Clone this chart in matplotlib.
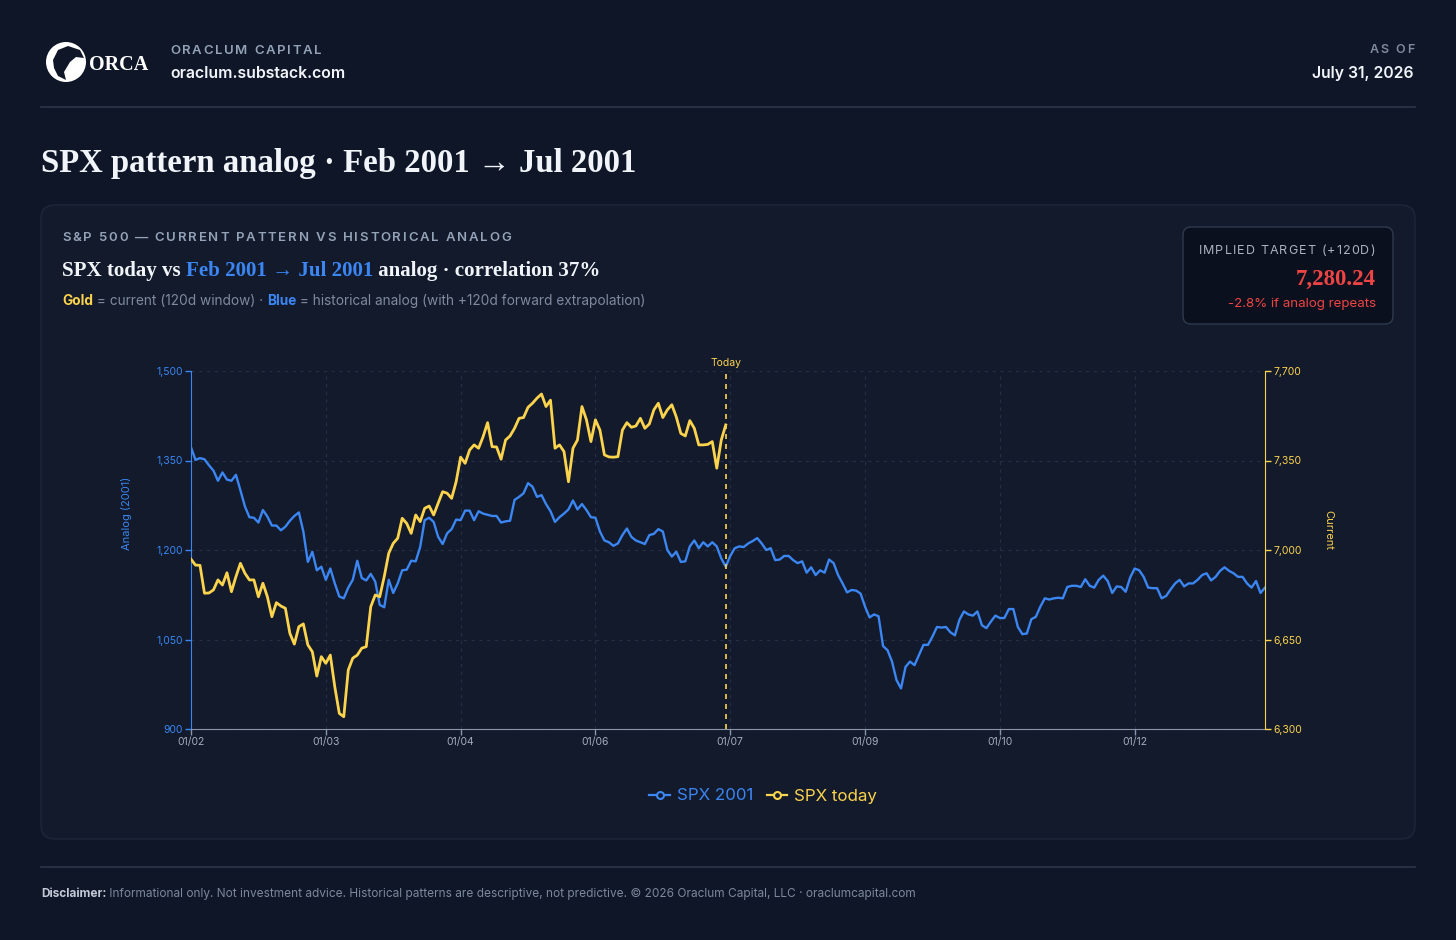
import numpy as np
import matplotlib
matplotlib.use('Agg')
import matplotlib.pyplot as plt
from matplotlib.patches import FancyBboxPatch, Circle, Polygon
from matplotlib.transforms import IdentityTransform
from matplotlib.lines import Line2D

# ---------------------------------------------------------------
# data (240 trading days, today = index 119)
# ---------------------------------------------------------------
spx_2001 = [
    1372, 1351, 1354, 1352, 1342, 1333, 1316, 1330, 1318, 1316,
    1326, 1300, 1273, 1255, 1254, 1246, 1267, 1256, 1241, 1241,
    1233, 1239, 1249, 1257, 1263, 1231, 1180, 1197, 1166, 1172,
    1150, 1169, 1144, 1122, 1119, 1137, 1150, 1182, 1153, 1149,
    1160, 1147, 1108, 1104, 1150, 1128, 1144, 1166, 1167, 1182,
    1181, 1205, 1250, 1254, 1247, 1222, 1210, 1228, 1235, 1251,
    1250, 1266, 1266, 1250, 1265, 1261, 1259, 1257, 1257, 1246,
    1248, 1249, 1284, 1289, 1295, 1312, 1306, 1289, 1292, 1277,
    1265, 1247, 1255, 1261, 1268, 1283, 1268, 1277, 1267, 1255,
    1254, 1231, 1216, 1213, 1207, 1211, 1225, 1236, 1222, 1216,
    1213, 1210, 1225, 1227, 1235, 1231, 1200, 1189, 1197, 1180,
    1181, 1206, 1216, 1203, 1213, 1206, 1213, 1206, 1186, 1172,
    1190, 1203, 1206, 1205, 1211, 1215, 1220, 1211, 1200, 1203,
    1183, 1184, 1190, 1190, 1183, 1178, 1181, 1162, 1171, 1158,
    1166, 1162, 1184, 1178, 1158, 1144, 1129, 1133, 1132, 1127,
    1105, 1087, 1092, 1089, 1039, 1032, 1013, 982, 968, 1004,
    1013, 1007, 1024, 1041, 1041, 1055, 1071, 1070, 1071, 1062,
    1057, 1083, 1097, 1092, 1090, 1097, 1074, 1069, 1080, 1090,
    1086, 1086, 1101, 1101, 1071, 1059, 1060, 1084, 1088, 1105,
    1119, 1117, 1119, 1120, 1119, 1138, 1140, 1140, 1138, 1151,
    1140, 1137, 1150, 1157, 1148, 1128, 1139, 1138, 1130, 1154,
    1169, 1166, 1155, 1137, 1136, 1136, 1119, 1123, 1134, 1144,
    1150, 1139, 1144, 1144, 1150, 1158, 1161, 1149, 1155, 1165,
    1171, 1165, 1161, 1155, 1155, 1144, 1137, 1148, 1128, 1137,
]
spx_today = [
    6964, 6941, 6940, 6831, 6832, 6844, 6883, 6863, 6911, 6837,
    6896, 6948, 6909, 6883, 6883, 6817, 6870, 6817, 6739, 6794,
    6781, 6772, 6674, 6632, 6700, 6711, 6629, 6602, 6507, 6583,
    6557, 6589, 6465, 6361, 6348, 6531, 6577, 6589, 6616, 6622,
    6778, 6824, 6817, 6896, 6987, 7026, 7046, 7124, 7104, 7065,
    7137, 7111, 7163, 7172, 7137, 7183, 7228, 7222, 7202, 7267,
    7363, 7339, 7391, 7411, 7398, 7443, 7498, 7404, 7403, 7355,
    7430, 7446, 7476, 7515, 7518, 7558, 7574, 7594, 7610, 7561,
    7586, 7398, 7411, 7385, 7267, 7398, 7430, 7561, 7509, 7424,
    7509, 7469, 7372, 7364, 7363, 7365, 7469, 7498, 7480, 7485,
    7515, 7476, 7493, 7548, 7574, 7518, 7548, 7568, 7520, 7456,
    7446, 7506, 7476, 7411, 7411, 7413, 7424, 7320, 7430, 7489,
]
x_tick_pos = [0, 30, 60, 90, 120, 150, 180, 210]
x_tick_labels = ['01/02', '01/03', '01/04', '01/06', '01/07', '01/09', '01/10', '01/12']
left_ticks = [900, 1050, 1200, 1350, 1500]
right_ticks = [6300, 6650, 7000, 7350, 7700]
today_idx = 119

# colours
BG = '#0e1628'
CARD = '#121a2c'
BLUE = '#3b86f2'
GOLD = '#fcd34d'
RED = '#ef4444'
GRAY = '#94a3b8'
DIM = '#7f8a9e'
WHITE = '#f1f5f9'
SANS = 'Inter'
SERIF = ['Liberation Serif', 'DejaVu Serif']

W, H = 1456, 940
fig = plt.figure(figsize=(W / 100, H / 100), dpi=100, facecolor=BG)
R = fig.canvas.get_renderer()
ID = IdentityTransform()


# helpers working in pixel coords, y measured from top
def text(x, y, s, **kw):
    return fig.text(x, H - y, s, transform=ID, **kw)


def width(s, **kw):
    a = text(0, -200, s + '|', **kw)
    b = text(0, -200, '|', **kw)
    w = a.get_window_extent(R).width - b.get_window_extent(R).width
    a.remove()
    b.remove()
    return w


def runs(x, y, parts):
    for s, kw in parts:
        text(x, y, s, va='baseline', **kw)
        x += width(s, **kw)


def spaced(x, y, s, track, ha='left', **kw):
    ws = [width(c, **kw) for c in s]
    total = sum(ws) + track * (len(s) - 1)
    if ha == 'right':
        x -= total
    for c, w in zip(s, ws):
        text(x, y, c, va='baseline', **kw)
        x += w + track


def hline(y, x0, x1, color, lw=1.0):
    fig.add_artist(Line2D([x0, x1], [H - y, H - y], transform=ID, color=color, lw=lw, zorder=-1))


def rbox(x0, y0, x1, y1, r, fc, ec, lw=1.0):
    fig.add_artist(FancyBboxPatch((x0, H - y1), x1 - x0, y1 - y0,
                                  boxstyle='round,pad=0,rounding_size=%d' % r,
                                  transform=ID, fc=fc, ec=ec, lw=lw, zorder=-1))


# ---------------- header ----------------
fig.add_artist(Circle((66, H - 62), 20, transform=ID, fc='white', ec='none'))
fig.add_artist(Polygon([(53, H - 60), (58, H - 50), (68, H - 46), (80, H - 50),
                        (84, H - 58), (76, H - 57), (70, H - 62), (64, H - 72),
                        (66, H - 80), (58, H - 76), (54, H - 68)],
                       closed=True, transform=ID, fc=BG, ec='none'))
text(89, 70, 'ORCA', fontsize=14.5, fontweight='bold', family=SERIF, color='white', va='baseline')
spaced(170, 54, 'ORACLUM CAPITAL', 1.7, fontsize=9.5, fontweight='semibold', family=SANS, color=GRAY)
text(170, 78, 'oraclum.substack.com', fontsize=11.4, fontweight='semibold', family=SANS,
     color=WHITE, va='baseline')
spaced(1414, 53, 'AS OF', 1.8, ha='right', fontsize=9, fontweight='semibold', family=SANS, color=DIM)
text(1414, 78, 'July 31, 2026', fontsize=11.3, fontweight='semibold', family=SANS,
     color=WHITE, va='baseline', ha='right')
hline(107, 41, 1415, '#2c374a', 1.2)

text(41, 172, 'SPX pattern analog · Feb 2001 → Jul 2001', fontsize=23.6, fontweight='bold',
     family=SERIF, color=WHITE, va='baseline')

# ---------------- card ----------------
rbox(41, 205, 1415, 839, 14, CARD, '#1e283a', 1.0)
spaced(62, 241, 'S&P 500 — CURRENT PATTERN VS HISTORICAL ANALOG', 1.8, fontsize=9.5,
       fontweight='semibold', family=SANS, color=GRAY)
serif_kw = dict(fontsize=15.1, fontweight='bold', family=SERIF)
runs(62, 276, [('SPX today vs ', dict(color=WHITE, **serif_kw)),
               ('Feb 2001 → Jul 2001', dict(color=BLUE, **serif_kw)),
               (' analog · correlation 37%', dict(color=WHITE, **serif_kw))])
sub_kw = dict(fontsize=9.85, family=SANS)
runs(62, 305, [('Gold', dict(color=GOLD, fontweight='bold', **sub_kw)),
               (' = current (120d window) · ', dict(color=DIM, **sub_kw)),
               ('Blue', dict(color=BLUE, fontweight='bold', **sub_kw)),
               (' = historical analog (with +120d forward extrapolation)', dict(color=DIM, **sub_kw))])

# implied target box
rbox(1183, 227, 1393, 324, 8, '#0a101d', '#2f3b4f', 1.0)
spaced(1375, 254, 'IMPLIED TARGET (+120D)', 1.1, ha='right', fontsize=9, family=SANS, color='#aab3c2')
text(1376, 285, '7,280.24', fontsize=16.5, fontweight='bold', family=SERIF, color=RED,
     va='baseline', ha='right')
text(1376, 307, '-2.8% if analog repeats', fontsize=9.6, family=SANS, color=RED,
     va='baseline', ha='right')

# ---------------- chart ----------------
idx = np.arange(len(spx_2001))
ax = fig.add_axes([191 / W, 1 - 729 / H, 1074 / W, 358 / H], zorder=2)
ax.set_facecolor('none')
ax.plot(idx, spx_2001, color=BLUE, lw=1.7, solid_joinstyle='round')
ax.set_xlim(0, len(spx_2001) - 1)
ax.set_ylim(left_ticks[0], left_ticks[-1])
ax.set_yticks(left_ticks)
ax.set_yticklabels(['{:,}'.format(v) for v in left_ticks])
ax.set_xticks(x_tick_pos)
ax.set_xticklabels(x_tick_labels)
ax.grid(True, color='#253044', linestyle=(0, (3, 4)), lw=0.8)
ax.set_axisbelow(True)
for s in ['top', 'right']:
    ax.spines[s].set_visible(False)
ax.spines['left'].set_color(BLUE)
ax.spines['bottom'].set_color('#8b96aa')
ax.tick_params(axis='y', colors=BLUE, labelsize=7.5, length=4, width=1, pad=2)
ax.tick_params(axis='x', colors='#8b96aa', labelcolor='#a3adbd', labelsize=7.5, length=4, width=1, pad=2)
for t in ax.get_xticklabels() + ax.get_yticklabels():
    t.set_family(SANS)

ax2 = ax.twinx()
ax2.set_zorder(3)
ax2.set_facecolor('none')
ax2.plot(idx[:len(spx_today)], spx_today, color=GOLD, lw=2.0, solid_joinstyle='round')
ax2.set_ylim(right_ticks[0], right_ticks[-1])
ax2.set_yticks(right_ticks)
ax2.set_yticklabels(['{:,}'.format(v) for v in right_ticks])
for s in ['top', 'left', 'bottom']:
    ax2.spines[s].set_visible(False)
ax2.spines['right'].set_color(GOLD)
ax2.tick_params(axis='y', colors=GOLD, labelsize=7.5, length=4, width=1, pad=2)
for t in ax2.get_yticklabels():
    t.set_family(SANS)
ax2.axvline(today_idx, color=GOLD, ls=(0, (3, 3)), lw=1.2)

text(726, 366, 'Today', fontsize=7.5, family=SANS, color=GOLD, ha='center', va='baseline')
text(127, 513, 'Analog (2001)', fontsize=8, family=SANS, color=BLUE, rotation=90,
     ha='center', va='center')
text(1328, 530, 'Current', fontsize=8, family=SANS, color=GOLD, rotation=-90,
     ha='center', va='center')

handles = [Line2D([], [], color=BLUE, lw=1.6, marker='o', markersize=5,
                  markerfacecolor=CARD, markeredgecolor=BLUE, markeredgewidth=1.5),
           Line2D([], [], color=GOLD, lw=1.6, marker='o', markersize=5,
                  markerfacecolor=CARD, markeredgecolor=GOLD, markeredgewidth=1.5)]
fig.legend(handles, ['SPX 2001', 'SPX today'], loc='center',
           bbox_to_anchor=(763 / W, 1 - 796 / H), ncol=2, frameon=False,
           prop={'family': SANS, 'size': 12.2}, labelcolor=[BLUE, GOLD],
           handlelength=1.2, handletextpad=0.4, columnspacing=0.8)

# ---------------- footer ----------------
hline(867, 41, 1415, '#2c374a', 1.2)
foot_kw = dict(fontsize=8.55, family=SANS)
runs(41, 897, [('Disclaimer:', dict(color='#c3cad6', fontweight='bold', **foot_kw)),
               (' Informational only. Not investment advice. Historical patterns are descriptive, '
                'not predictive. © 2026 Oraclum Capital, LLC · oraclumcapital.com',
                dict(color='#7d889c', **foot_kw))])

fig.savefig('out.png', dpi=100, facecolor=BG)
